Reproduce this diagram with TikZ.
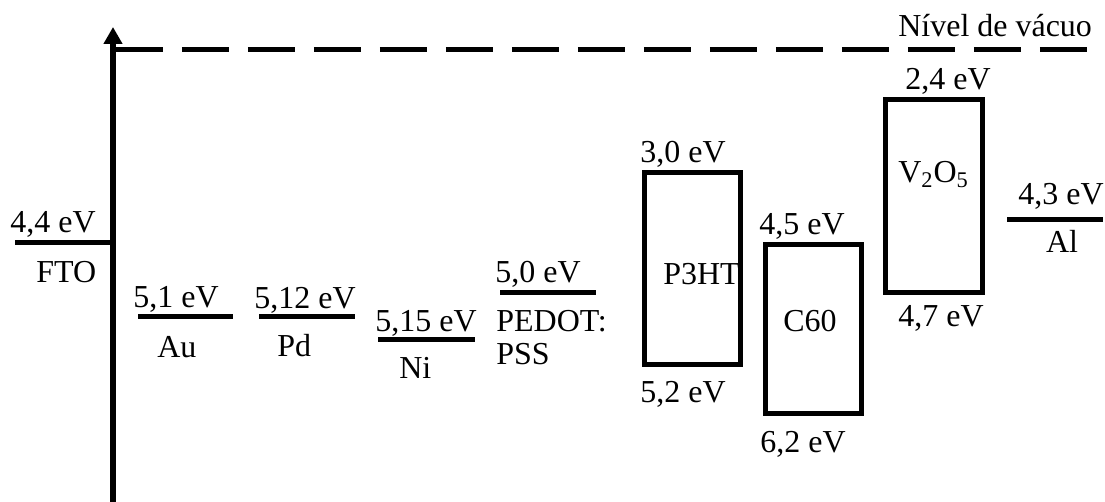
\documentclass[tikz,border=0pt]{standalone}
\usepackage{fontspec}
\setmainfont{Liberation Serif}
\usetikzlibrary{arrows.meta,positioning}

\begin{document}
\begin{tikzpicture}[x=0.02cm, y=-0.02cm,
  level/.style={line width=0.1cm},
  band/.style={draw, line width=0.1cm},
  lbl/.style={anchor=base west, inner sep=0pt, font=\fontsize{18.2}{22}\selectfont},
  clbl/.style={lbl, anchor=base},
  arrow/.style={-{Triangle[length=0.34cm, width=0.36cm]}, line width=0.11cm}
]
\useasboundingbox (0,0) rectangle (1105,502);

% eixo de energia e nivel de vacuo
\coordinate (base) at (113,502);
\coordinate (top) at (113,27);
\coordinate (vac0) at (116,50);
\coordinate (vac1) at (1087,50);
\draw[arrow] (base) -- (top);
\draw[level, dash pattern=on 0.94cm off 0.38cm] (vac0) -- (vac1);
\node[lbl] (vac) at (898,37) {Nível de vácuo};

% eletrodos
\draw[level] (15,243) -- (113,243);
\node[lbl] (fto-e) at (10,233) {4,4 eV};
\node[lbl] (fto) at (36,283) {FTO};

\draw[level] (138,317) -- (233,317);
\node[lbl] (au-e) at (133,308) {5,1 eV};
\node[lbl] (au) at (157,358) {Au};

\draw[level] (259,317) -- (355,317);
\node[lbl] (pd-e) at (254,309) {5,12 eV};
\node[lbl] (pd) at (277,357) {Pd};

\draw[level] (378,340) -- (475,340);
\node[lbl] (ni-e) at (375,332) {5,15 eV};
\node[lbl] (ni) at (399,379) {Ni};

\draw[level] (500,293) -- (596,293);
\node[lbl] (pedot-e) at (495,283) {5,0 eV};
\node[lbl] (pedot) at (496,332) {PEDOT:};
\node[lbl] (pss) at (496,365) {PSS};

% camadas ativas
\draw[band] (644.5,172.5) rectangle (740.5,364.5);
\node[lbl] (p3ht-lumo) at (640,163) {3,0 eV};
\node[lbl] (p3ht) at (663,285) {P3HT};
\node[lbl] (p3ht-homo) at (640,403) {5,2 eV};

\draw[band] (765.5,244.5) rectangle (861.5,413.5);
\node[lbl] (c60-lumo) at (759,235) {4,5 eV};
\node[clbl] (c60) at (810,332) {C60};
\node[lbl] (c60-homo) at (760,453) {6,2 eV};

\draw[band] (885.5,99.5) rectangle (982.5,292.5);
\node[lbl] (v-cb) at (905,90) {2,4 eV};
\node[lbl] (v2o5) at (898,183) {V\textsubscript{2}O\textsubscript{5}};
\node[lbl] (v-vb) at (898,327) {4,7 eV};

\draw[level] (1007,220) -- (1103,220);
\node[lbl] (al-e) at (1018,205) {4,3 eV};
\node[clbl] (al) at (1062,253) {Al};

\end{tikzpicture}
\end{document}
